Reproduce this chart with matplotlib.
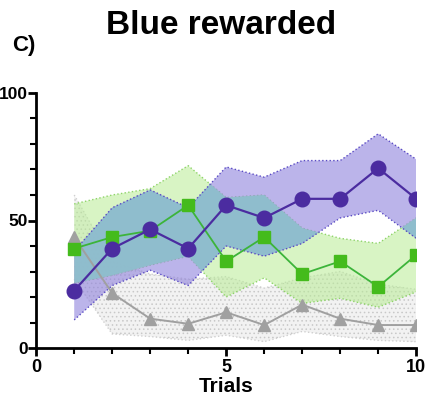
import numpy as np
import matplotlib.pyplot as plt
from matplotlib.path import Path

plt.rcParams['font.family'] = ['Liberation Sans', 'DejaVu Sans']
plt.rcParams['font.weight'] = 'bold'
plt.rcParams['axes.labelweight'] = 'bold'
plt.rcParams['hatch.linewidth'] = 0.6

trials = np.arange(1, 11)

blue_mean = [22.5, 39, 46.5, 39, 56, 51, 58.5, 58.5, 70.5, 58.5]
blue_hi = [38, 55, 62, 55, 71, 67, 73.5, 73.5, 84, 74]
blue_lo = [11, 24.5, 30.5, 24.5, 40, 36, 41, 51, 54, 43]

green_mean = [39, 43.5, 46, 56, 34, 43.5, 29, 34, 24, 36.5]
green_hi = [56.5, 60, 62.5, 71.5, 59, 60, 47, 43, 41, 51]
green_lo = [25.5, 28.5, 32.5, 36, 20, 27.5, 17.5, 19.5, 16, 22]

grey_mean = [43.5, 21.5, 11.5, 9.5, 14, 9, 17, 11.5, 9, 9]
grey_hi = [60, 34, 29, 27, 28, 23.5, 27.5, 30, 25, 23]
grey_lo = [27, 5.5, 4.5, 3, 5, 2.5, 6.5, 4.5, 3, 2.5]

fig = plt.figure(figsize=(4.26, 4.0), dpi=100)
ax = fig.add_axes([0.085, 0.13, 0.892, 0.6375])

# grey band with dotted texture
ax.fill_between(trials, grey_lo, grey_hi, facecolor='#f2f2f2', edgecolor='#c8c8c8',
                hatch='....', linewidth=0, zorder=1)
ax.plot(trials, grey_hi, ':', color='#d0d0d0', lw=1, zorder=1.1)
ax.plot(trials, grey_lo, ':', color='#d0d0d0', lw=1, zorder=1.1)

# green band
ax.fill_between(trials, green_lo, green_hi, facecolor='#b8ec94', alpha=0.55,
                linewidth=0, zorder=2)
ax.plot(trials, green_hi, ':', color='#8fd46a', lw=1, zorder=2.1)
ax.plot(trials, green_lo, ':', color='#8fd46a', lw=1, zorder=2.1)

# blue band
blue_fill = ax.fill_between(trials, blue_lo, blue_hi, facecolor='#8f82dc', alpha=0.6,
                            linewidth=0, zorder=3)

# overlap of blue and green bands
overlap = ax.fill_between(trials, green_lo, green_hi, facecolor='#8ebecd', alpha=0.95,
                          linewidth=0, zorder=3.5)
blue_path = blue_fill.get_paths()[0]
overlap.set_clip_path(Path(blue_path.vertices, blue_path.codes), transform=ax.transData)

ax.plot(trials, blue_hi, ':', color='#5a4bc4', lw=1, zorder=3.6)
ax.plot(trials, blue_lo, ':', color='#5a4bc4', lw=1, zorder=3.6)

# means
ax.plot(trials, grey_mean, '-^', color='#a0a0a0', lw=1.4, ms=9, mec='#a0a0a0', zorder=5)
ax.plot(trials, green_mean, '-s', color='#3cb43a', lw=1.3, ms=8.5, mfc='#44bb1c',
        mec='#44bb1c', zorder=6)
ax.plot(trials, blue_mean, '-o', color='#4b2ca0', lw=1.6, ms=10.5, zorder=7)

ax.set_xlim(0, 10)
ax.set_ylim(0, 100)
ax.set_xticks([0, 5, 10])
ax.set_xticks(np.arange(0, 11), minor=True)
ax.set_yticks([0, 50, 100])
ax.set_yticks(np.arange(0, 101, 10), minor=True)
for side in ['top', 'right']:
    ax.spines[side].set_visible(False)
for side in ['left', 'bottom']:
    ax.spines[side].set_linewidth(2)
ax.tick_params(which='major', length=6, width=2, labelsize=13, pad=2)
ax.tick_params(axis='y', which='major', labelsize=12.5, pad=0)
ax.tick_params(which='minor', length=4, width=1.5)
ax.set_xlabel('Trials', fontsize=15, labelpad=1)

fig.text(0.52, 0.935, 'Blue rewarded', fontsize=24, ha='center', va='center')
fig.text(0.028, 0.885, 'C)', fontsize=16, ha='left', va='center')

fig.savefig('out.png', dpi=100)
